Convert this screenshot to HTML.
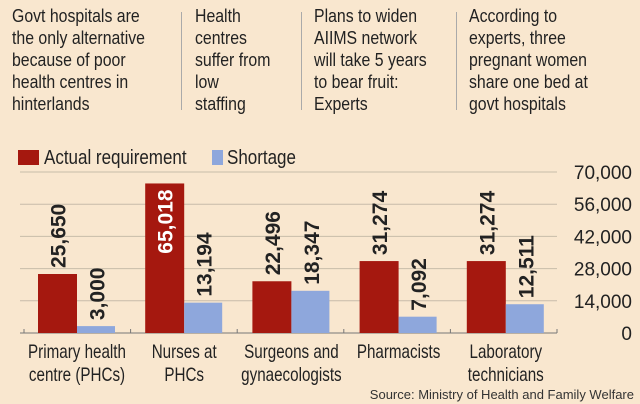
<!DOCTYPE html>
<html><head><meta charset="utf-8"><style>
body{margin:0;width:640px;height:404px;background:#f9e7cf;overflow:hidden;font-family:"Liberation Sans",sans-serif;color:#222}
.col{position:absolute;top:5px;font-size:18px;line-height:22px;transform:scaleX(0.88);transform-origin:0 0;white-space:nowrap}
.sep{position:absolute;top:12px;height:98px;width:1px;background:#aaa}
svg{position:absolute;left:0;top:0}
</style></head><body>
<div class="col" style="left:12px">Govt hospitals are<br>the only alternative<br>because of poor<br>health centres in<br>hinterlands</div>
<div class="sep" style="left:181px"></div>
<div class="col" style="left:195px">Health<br>centres<br>suffer from<br>low<br>staffing</div>
<div class="sep" style="left:301px"></div>
<div class="col" style="left:314px">Plans to widen<br>AIIMS network<br>will take 5 years<br>to bear fruit:<br>Experts</div>
<div class="sep" style="left:456px"></div>
<div class="col" style="left:469px">According to<br>experts, three<br>pregnant women<br>share one bed at<br>govt hospitals</div>
<svg id="chart" width="640" height="404"></svg>
<script>
const categories=[["Primary health","centre (PHCs)"],["Nurses at","PHCs"],["Surgeons and","gynaecologists"],["Pharmacists"],["Laboratory","technicians"]];
const actual=[25650,65018,22496,31274,31274];
const shortage=[3000,13194,18347,7092,12511];
const actualLabels=["25,650","65,018","22,496","31,274","31,274"];
const shortageLabels=["3,000","13,194","18,347","7,092","12,511"];
const ticks=[0,14000,28000,42000,56000,70000];
const tickLabels=["0","14,000","28,000","42,000","56,000","70,000"];
const NS="http://www.w3.org/2000/svg",svg=document.getElementById('chart');
const y=v=>333-v*161/70000;
const gx=i=>38+i*107.2;
const BW=39;
function mk(t,a,txt){const e=document.createElementNS(NS,t);for(const k in a)e.setAttribute(k,a[k]);if(txt!=null)e.textContent=txt;svg.appendChild(e);return e;}
const F='"Liberation Sans",sans-serif';
ticks.forEach((t,i)=>{
 const l=mk('line',{x1:20,x2:557,y1:y(t),y2:y(t),stroke:t===0?'#777':'#c8bcaa','stroke-width':1});
 
 
 const tx=mk('text',{x:632,y:y(t)+7,'text-anchor':'end','font-size':19,'font-family':F,fill:'#222'},tickLabels[i]);
 
 
});
for(let i=0;i<=5;i++){const l=mk('line',{x1:24+i*106.6,x2:24+i*106.6,y1:329,y2:333,stroke:'#777'});
 
 }
categories.forEach((c,i)=>{
 const x=gx(i);
 const r=mk('rect',{x:x,y:y(actual[i]),width:BW,height:333-y(actual[i]),fill:'#a5180f'});
 
 
 const b=mk('rect',{x:x+BW,y:y(shortage[i]),width:BW-1,height:333-y(shortage[i]),fill:'#8ea7dc'});
 
 
 const inside=actual[i]>50000;
 const ay=inside?y(actual[i])+6:y(actual[i])-6;
 const t1=mk('text',{transform:`translate(${x+BW/2+8},${ay}) rotate(-90)`,'text-anchor':inside?'end':'start','font-size':21,'font-weight':'bold','font-family':F,fill:inside?'#fff':'#222'},actualLabels[i]);
 
 
 const t2=mk('text',{transform:`translate(${x+BW*1.5+8},${y(shortage[i])-6}) rotate(-90)`,'font-size':21,'font-weight':'bold','font-family':F,fill:'#222'},shortageLabels[i]);
 
 
 c.forEach((s,j)=>{const t=mk('text',{transform:`translate(${x+BW},${358+j*23}) scale(0.8,1)`,'text-anchor':'middle','font-size':19,'font-family':F,fill:'#222'},s);
 
 });
});
const l1=mk('rect',{x:18,y:150,width:21,height:15,fill:'#a5180f'});


const lt1=mk('text',{transform:'translate(44,164) scale(0.85,1)','font-size':20,'font-family':F,fill:'#222'},'Actual requirement');


const l2=mk('rect',{x:212,y:150,width:11,height:15,fill:'#8ea7dc'});


const lt2=mk('text',{transform:'translate(227,164) scale(0.85,1)','font-size':20,'font-family':F,fill:'#222'},'Shortage');


const src=mk('text',{x:634,y:399,'text-anchor':'end','font-size':13,'font-family':F,fill:'#333'},'Source: Ministry of Health and Family Welfare');


</script>
</body></html>
